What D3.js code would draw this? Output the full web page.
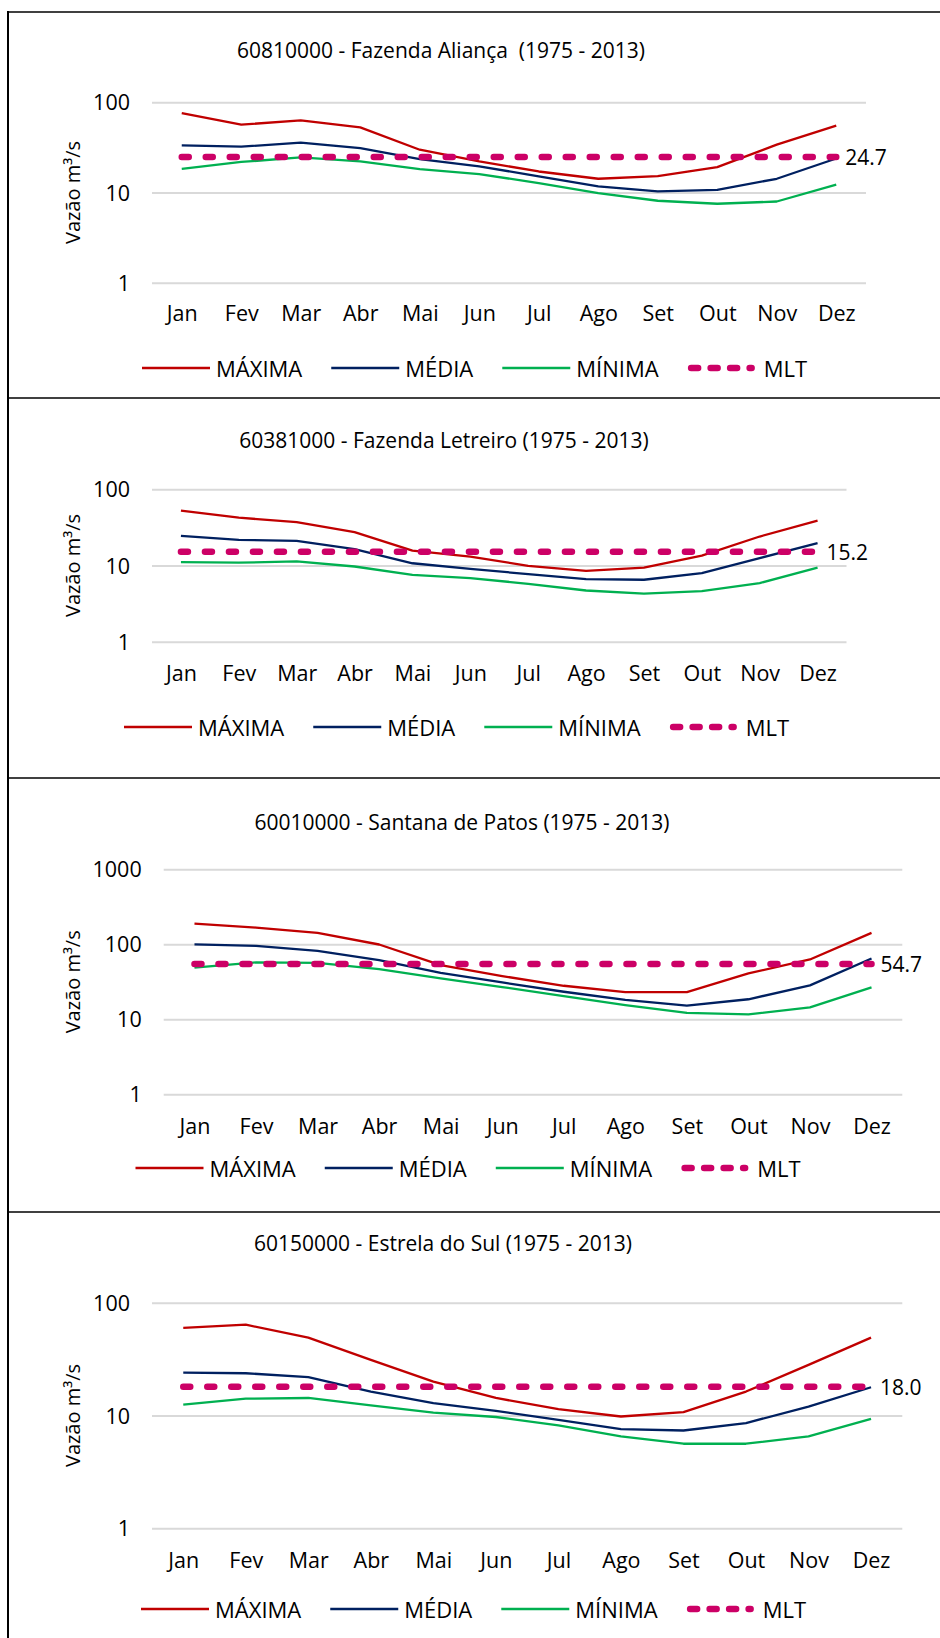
<!DOCTYPE html>
<meta charset="utf-8">
<style>
body { margin: 0; background: #fff; }
svg { display: block; font-family: "Open Sans", "Noto Sans", sans-serif; }
.grid line { stroke: #d9d9d9; stroke-width: 2; }
.grid path, .xaxis path { display: none; }
.grid text, .xaxis text { fill: #000; font-size: 21.5px; font-family: "Open Sans", sans-serif; }
.title { font-size: 21px; fill: #000; }
.ytitle { font-size: 20px; fill: #000; }
.legend text { font-size: 22px; fill: #000; }
.mltlabel { font-size: 21px; fill: #000; }
</style>
<svg width="940" height="1638"></svg>
<script src="https://cdn.jsdelivr.net/npm/d3@7"></script>
<script>

var months = ["Jan", "Fev", "Mar", "Abr", "Mai", "Jun", "Jul", "Ago", "Set", "Out", "Nov", "Dez"];
var seriesNames = ["MÁXIMA", "MÉDIA", "MÍNIMA", "MLT"];

var titles = [
  "60810000 - Fazenda Aliança  (1975 - 2013)",
  "60381000 - Fazenda Letreiro (1975 - 2013)",
  "60010000 - Santana de Patos (1975 - 2013)",
  "60150000 - Estrela do Sul (1975 - 2013)"
];

// vazões mensais (m³/s)
var maxima1 = [76, 56.5, 63, 52.7, 29.8, 22.1, 17.1, 14.2, 15.2, 19.1, 33.9, 55];
var media1  = [33.3, 32.2, 35.7, 31.1, 23.5, 19.5, 15.1, 11.7, 10.3, 10.7, 14.2, 23.8];
var minima1 = [18.3, 21.8, 24.5, 22.1, 18.2, 16, 12.7, 9.85, 8.1, 7.5, 7.95, 12.2];
var mlt1 = 24.7;

var maxima2 = [52.5, 42.5, 37, 27.4, 15.7, 13.1, 9.9, 8.5, 9.4, 13.5, 24, 38.8];
var media2  = [24.5, 21.7, 21, 16.4, 10.7, 9.05, 7.7, 6.64, 6.5, 7.95, 12.5, 19.6];
var minima2 = [11.1, 10.9, 11.3, 9.7, 7.55, 6.83, 5.75, 4.7, 4.27, 4.62, 5.88, 9.4];
var mlt2 = 15.2;

var maxima3 = [189, 167, 142, 99.4, 52.7, 37.7, 28, 23, 23, 40.9, 62.8, 142];
var media3  = [100, 95, 81.7, 61.5, 41.7, 31, 23.3, 18.1, 15.2, 18.5, 28.3, 64.7];
var minima3 = [49, 57.3, 56.6, 46.7, 35.1, 26.9, 20.4, 15.5, 12.2, 11.6, 14.4, 26.7];
var mlt3 = 54.7;

var maxima4 = [59.7, 63.8, 49, 31.1, 20, 14.3, 11.4, 9.8, 10.7, 16.3, 28.1, 49];
var media4  = [24, 23.7, 21.9, 16.3, 12.9, 11, 9.16, 7.58, 7.36, 8.57, 12, 17.8];
var minima4 = [12.5, 14.1, 14.3, 12.3, 10.6, 9.7, 8.16, 6.52, 5.62, 5.62, 6.52, 9.35];
var mlt4 = 18.0;

var yTicks1 = [1, 10, 100];
var yTicks3 = [1, 10, 100, 1000];

var colors = ["#c00000", "#002060", "#00b050", "#cc0066"];

// layout of each panel
var panels = [
  {max: maxima1, med: media1, min: minima1, mlt: mlt1, ticks: yTicks1,
   x0: 152, x1: 866, yTop: 102.3, yBot: 282.7, titleX: 441, titleY: 50, xLabY: 313, legX: 142, legY: 368},
  {max: maxima2, med: media2, min: minima2, mlt: mlt2, ticks: yTicks1,
   x0: 152, x1: 846.5, yTop: 489.3, yBot: 641.7, titleX: 444, titleY: 440, xLabY: 673, legX: 124, legY: 727},
  {max: maxima3, med: media3, min: minima3, mlt: mlt3, ticks: yTicks3,
   x0: 163.7, x1: 902.3, yTop: 869.3, yBot: 1094.3, titleX: 462, titleY: 822, xLabY: 1126, legX: 135.5, legY: 1168},
  {max: maxima4, med: media4, min: minima4, mlt: mlt4, ticks: yTicks1,
   x0: 152, x1: 902.3, yTop: 1302.7, yBot: 1528.3, titleX: 443, titleY: 1243, xLabY: 1560, legX: 141, legY: 1609}
];

var svg = d3.select("svg");

// table borders
var borders = svg.append("g").attr("stroke", "#000");
[12, 398, 778, 1212].forEach(function(y) {
  borders.append("line").attr("x1", 7).attr("x2", 940).attr("y1", y).attr("y2", y).attr("stroke-width", 1.5);
});
borders.append("line").attr("x1", 8).attr("x2", 8).attr("y1", 11).attr("y2", 1638).attr("stroke-width", 2);

panels.forEach(function(p, i) {
  var g = svg.append("g");

  var x = d3.scalePoint().domain(months).range([p.x0, p.x1]).padding(0.5);
  var y = d3.scaleLog().domain([1, d3.max(p.ticks)]).range([p.yBot, p.yTop]);

  g.append("g")
      .attr("class", "grid")
      .attr("transform", "translate(" + p.x0 + ",0)")
      .call(d3.axisLeft(y).tickValues(p.ticks).tickFormat(d3.format("d"))
        .tickSize(-(p.x1 - p.x0)).tickPadding(22))
      .selectAll("text").attr("dy", "0.35em");

  g.append("g")
      .attr("class", "xaxis")
      .attr("transform", "translate(0," + p.xLabY + ")")
      .call(d3.axisBottom(x).tickSize(0).tickPadding(0))
      .call(function(a) { a.selectAll("line").remove(); })
      .selectAll("text").attr("dy", "0.35em");

  g.append("text")
      .attr("class", "title")
      .attr("x", p.titleX)
      .attr("y", p.titleY)
      .attr("text-anchor", "middle")
      .attr("dominant-baseline", "central")
      .style("white-space", "pre")
      .attr("xml:space", "preserve")
      .text(titles[i]);

  g.append("text")
      .attr("class", "ytitle")
      .attr("transform", "translate(72," + ((p.yTop + p.yBot) / 2) + ") rotate(-90)")
      .attr("text-anchor", "middle")
      .attr("dominant-baseline", "central")
      .text("Vazão m³/s");

  var line = d3.line()
      .x(function(d, j) { return x(months[j]); })
      .y(function(d) { return y(d); });

  [p.max, p.med, p.min].forEach(function(s, k) {
    g.append("path")
        .datum(s)
        .attr("fill", "none")
        .attr("stroke", colors[k])
        .attr("stroke-width", 2.3)
        .attr("stroke-linejoin", "round")
        .attr("d", line);
  });

  var mltData = months.map(function() { return p.mlt; });
  g.append("path")
      .datum(mltData)
      .attr("fill", "none")
      .attr("stroke", colors[3])
      .attr("stroke-width", 6.5)
      .attr("stroke-linecap", "round")
      .attr("stroke-dasharray", "7 17")
      .attr("d", line);

  g.append("text")
      .attr("class", "mltlabel")
      .attr("x", x("Dez") + 9)
      .attr("y", y(p.mlt))
      .attr("dominant-baseline", "central")
      .text(d3.format(".1f")(p.mlt));

  // legend
  var leg = g.append("g").attr("class", "legend");
  var cx = p.legX;
  seriesNames.forEach(function(name, k) {
    var item = leg.append("g");
    var tx = cx + 74;
    if (k < 3) {
      item.append("line")
          .attr("x1", cx).attr("x2", cx + 68)
          .attr("y1", p.legY).attr("y2", p.legY)
          .attr("stroke", colors[k]).attr("stroke-width", 2.5);
    } else {
      item.append("line")
          .attr("x1", cx + 3.5).attr("x2", cx + 64)
          .attr("y1", p.legY).attr("y2", p.legY)
          .attr("stroke", colors[k]).attr("stroke-width", 6.5)
          .attr("stroke-linecap", "round")
          .attr("stroke-dasharray", "7 12.5");
      tx = cx + 76;
    }
    var t = item.append("text")
        .attr("x", tx)
        .attr("y", p.legY)
        .attr("dominant-baseline", "central")
        .text(name);
    cx = tx + t.node().getComputedTextLength() + 29;
  });
});

</script>
